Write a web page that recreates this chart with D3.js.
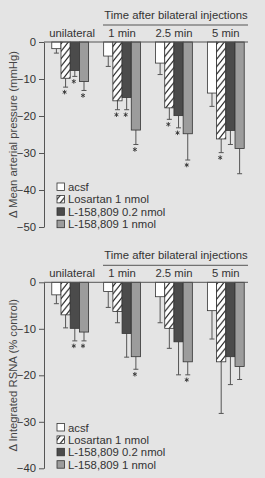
<!DOCTYPE html>
<html>
<head>
<meta charset="utf-8">
<script src="https://cdn.jsdelivr.net/npm/d3@7"></script>
<style>
  body { margin: 0; background: #e4e4e4; }
  svg { display: block; font-family: "Liberation Sans", Arial, Helvetica, sans-serif; }
</style>
</head>
<body>
<div id="chart"></div>
<script>
// groups on the x axis and the four treatments
const groups = ["unilateral", "1 min", "2.5 min", "5 min"];
const series = ["acsf", "Losartan 1 nmol", "L-158,809 0.2 nmol", "L-158,809 1 nmol"];

// panel 1: change in mean arterial pressure (mmHg), one row per treatment
const mapMean = [
  [-1.8, -3.8, -5.7, -13.8],
  [-9.8, -15.9, -17.8, -26.2],
  [-7.7, -15.0, -19.9, -23.9],
  [-10.7, -23.8, -24.8, -28.8]
];
const mapErr = [
  [1.2, 2.8, 3.1, 3.6],
  [2.4, 2.4, 3.1, 3.7],
  [1.6, 3.3, 3.3, 3.8],
  [2.4, 3.9, 7.1, 6.8]
];
const mapSig = [
  [0, 0, 0, 0],
  [1, 1, 1, 1],
  [1, 1, 1, 0],
  [1, 1, 1, 0]
];
const mapTicks = [0, -10, -20, -30, -40, -50];

// panel 2: change in integrated RSNA (% control)
const rsnaMean = [
  [-2.7, -2.0, -3.1, -6.1],
  [-7.0, -6.3, -9.9, -17.1],
  [-9.9, -11.0, -12.8, -16.0],
  [-10.7, -16.0, -17.1, -18.1]
];
const rsnaErr = [
  [1.9, 3.4, 5.6, 6.1],
  [2.8, 2.4, 4.3, 11.1],
  [2.7, 5.1, 7.1, 6.0],
  [1.9, 2.7, 2.8, 2.8]
];
const rsnaSig = [
  [0, 0, 0, 0],
  [0, 0, 0, 0],
  [1, 0, 0, 0],
  [1, 1, 1, 0]
];
const rsnaTicks = [0, -10, -20, -30, -40];

const width = 265, height = 478;
const fills = ["#ffffff", "url(#hatch)", "#4b4b4b", "#9c9c9c"];
const ink = "#333";

const svg = d3.select("#chart").append("svg")
  .attr("width", width)
  .attr("height", height);

svg.append("rect").attr("width", width).attr("height", height).attr("fill", "#e4e4e4");

// diagonal hatch for losartan
const pat = svg.append("defs").append("pattern")
  .attr("id", "hatch")
  .attr("patternUnits", "userSpaceOnUse")
  .attr("width", 6)
  .attr("height", 7.5);
pat.append("rect").attr("width", 6).attr("height", 7.5).attr("fill", "#fff");
pat.append("path")
  .attr("d", "M0,7.5L6,0M-1,1.25L1,-1.25M5,8.75L7,6.25")
  .attr("stroke", "#222")
  .attr("stroke-width", 1.1);

const x0 = d3.scaleBand().domain(groups).range([44, 252]).paddingInner(0.29).paddingOuter(0.15);
const x1 = d3.scaleBand().domain(d3.range(series.length)).range([0, x0.bandwidth()]);

// small asterisk for significance (stroke symbol keeps it grey)
const star = d3.symbolAsterisk ? d3.symbol(d3.symbolAsterisk, 14) : null;

function drawPanel({ top, bottom, ticks, means, errs, sig, yLabel, legendTop }) {
  const g = svg.append("g");
  const y = d3.scaleLinear().domain([0, d3.min(ticks)]).range([top, bottom]);

  // title and underline
  g.append("text")
    .attr("x", 176).attr("y", top - 23)
    .attr("text-anchor", "middle")
    .attr("font-size", 11.3)
    .attr("fill", ink)
    .text("Time after bilateral injections");
  g.append("line")
    .attr("x1", 103).attr("x2", 248)
    .attr("y1", top - 17).attr("y2", top - 17)
    .attr("stroke", "#555").attr("stroke-width", 1);

  g.selectAll(".grp")
    .data(groups)
    .enter().append("text")
    .attr("x", (d, i) => x0(d) + x0.bandwidth() / 2 + (i === 0 ? 2 : 0))
    .attr("y", top - 5)
    .attr("text-anchor", "middle")
    .attr("font-size", 11.3)
    .attr("fill", ink)
    .text(d => d);

  // bars
  series.forEach((s, si) => {
    groups.forEach((grp, gi) => {
      const m = means[si][gi], e = errs[si][gi];
      const bx = x0(grp) + x1(si);
      const bw = x1.bandwidth();
      const cx = bx + bw / 2;
      g.append("line")
        .attr("x1", cx).attr("x2", cx)
        .attr("y1", y(m)).attr("y2", y(m - e))
        .attr("stroke", "#555").attr("stroke-width", 1);
      g.append("line")
        .attr("x1", cx - 2.5).attr("x2", cx + 2.5)
        .attr("y1", y(m - e)).attr("y2", y(m - e))
        .attr("stroke", "#555").attr("stroke-width", 1);
      g.append("rect")
        .attr("x", bx).attr("y", y(0))
        .attr("width", bw).attr("height", y(m) - y(0))
        .attr("fill", fills[si])
        .attr("stroke", ink).attr("stroke-width", 0.8);
      if (sig[si][gi]) {
        if (star) {
          g.append("path")
            .attr("d", star())
            .attr("transform", `translate(${cx - 1},${y(m - e) + 5})`)
            .attr("fill", "none")
            .attr("stroke", ink)
            .attr("stroke-width", 0.9);
        } else {
          g.append("text")
            .attr("x", cx - 1).attr("y", y(m - e) + 10)
            .attr("text-anchor", "middle")
            .attr("font-size", 10)
            .attr("fill", ink)
            .text("*");
        }
      }
    });
  });

  // zero line
  g.append("line")
    .attr("x1", 44).attr("x2", 248)
    .attr("y1", y(0)).attr("y2", y(0))
    .attr("stroke", "#555").attr("stroke-width", 1);

  // y axis
  const ax = g.append("g")
    .attr("transform", "translate(44,0)")
    .call(d3.axisLeft(y).tickValues(ticks).tickSize(5).tickSizeOuter(0).tickPadding(3).tickFormat(d3.format("d")));
  ax.selectAll("path, line").attr("stroke", "#555");
  ax.selectAll("text").attr("font-size", 11.3).attr("fill", ink)
    .attr("font-family", "\"Liberation Sans\", Arial, sans-serif");

  g.append("text")
    .attr("transform", `translate(17,${(top + bottom) / 2}) rotate(-90)`)
    .attr("text-anchor", "middle")
    .attr("font-size", 11.3)
    .attr("fill", "#444")
    .text(yLabel);

  // legend
  const leg = g.selectAll(".leg")
    .data(series)
    .enter().append("g")
    .attr("transform", (d, i) => `translate(57,${legendTop + i * 12.4})`);
  leg.append("rect")
    .attr("x", 0).attr("y", -4)
    .attr("width", 7.5).attr("height", 7.5)
    .attr("fill", (d, i) => fills[i])
    .attr("stroke", ink).attr("stroke-width", 0.8);
  leg.append("text")
    .attr("x", 11).attr("y", 4)
    .attr("font-size", 11.3)
    .attr("fill", ink)
    .text(d => d);
}

drawPanel({
  top: 42, bottom: 227, ticks: mapTicks,
  means: mapMean, errs: mapErr, sig: mapSig,
  yLabel: "\u0394 Mean arterial pressure (mmHg)",
  legendTop: 187
});

drawPanel({
  top: 282.3, bottom: 468.3, ticks: rsnaTicks,
  means: rsnaMean, errs: rsnaErr, sig: rsnaSig,
  yLabel: "\u0394 Integrated RSNA (% control)",
  legendTop: 427.5
});
</script>
</body>
</html>
